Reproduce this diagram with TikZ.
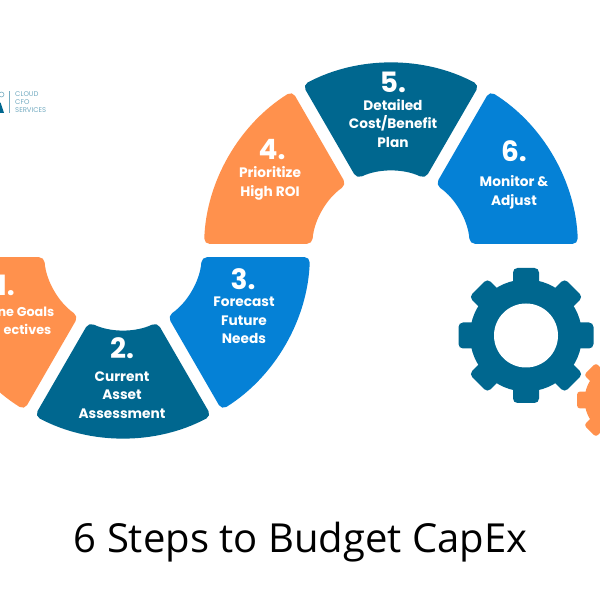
\documentclass[tikz,border=0pt]{standalone}
\usepackage{fontspec}
\setmainfont{Open Sans}
\newfontfamily\stepfont{Poppins}
\definecolor{steporange}{HTML}{FF914D}
\definecolor{stepteal}{HTML}{00678F}
\definecolor{stepblue}{HTML}{0581D6}
\usetikzlibrary{positioning,calc}
% ring sector: start angle, end angle, colour
\newcommand{\ringsector}[3]{
\fill[#3,rounded corners=5.5pt] (#1+1.85:187) arc (#1+1.85:#2-1.85:187)
  -- (#2-4.4:79) arc (#2-4.4:#1+4.4:79) -- cycle;
}
% cog: centre, scale, colour
\newcommand{\cogwheel}[3]{
\begin{scope}[shift={#1},scale=#2]
\fill[#3] (0,0) circle (56);
\foreach \ang in {0,45,...,315}
  \fill[#3,rotate=\ang,rounded corners=#2*4.5pt] (45,-13) rectangle (67.5,13);
\fill[white] (0,0) circle (32);
\end{scope}
}
\begin{document}
\begin{tikzpicture}
[x=1pt,y=1pt,
stepnum/.style={text=white,font=\stepfont\bfseries\fontsize{28}{28}\selectfont,inner sep=0pt},
steplab/.style={text=white,font=\stepfont\bfseries\fontsize{13.7}{18.7}\selectfont,align=center,inner sep=0pt},
cutlab/.style={text=white,font=\stepfont\bfseries\fontsize{12.8}{18.7}\selectfont,anchor=east,inner sep=0pt},
logotext/.style={text=stepteal!55,font=\stepfont\fontsize{6.9}{8}\selectfont,anchor=west,inner sep=0pt}]
\useasboundingbox (0,0) rectangle (600,600);
\clip (0,0) rectangle (600,600);
\fill[white] (0,0) rectangle (600,600);
%%%%% lower ring
\begin{scope}[shift={(123,349)}]
\ringsector{180}{240}{steporange}
\ringsector{240}{300}{stepteal}
\ringsector{300}{360}{stepblue}
\end{scope}
%%%%% upper ring
\begin{scope}[shift={(391,350)}]
\ringsector{120}{180}{steporange}
\ringsector{60}{120}{stepteal}
\ringsector{0}{60}{stepblue}
\end{scope}
%%%%% cogs
\cogwheel{(621,200)}{0.65}{steporange}
\cogwheel{(526,264.5)}{1}{stepteal}
%%%%% step labels
\node (n1) [stepnum,anchor=east] at (15,315) {1.};
\node (l1a) [cutlab] at (54.5,288) {ne Goals};
\node (l1b) [cutlab] at (51.5,271) {ectives};
\node (n2) [stepnum] at (122,252) {2.};
\node (l2) [steplab] at (122,205) {Current\\Asset\\Assessment};
\node (n3) [stepnum] at (243,321) {3.};
\node (l3) [steplab] at (244,279.5) {Forecast\\Future\\Needs};
\node (n4) [stepnum] at (272,450) {4.};
\node (l4) [steplab] at (270,416.5) {Prioritize\\High ROI};
\node (n5) [stepnum] at (393,518) {5.};
\node (l5) [steplab] at (393,476.5) {Detailed\\Cost/Benefit\\Plan};
\node (n6) [stepnum] at (514,448.5) {6.};
\node (l6) [steplab] at (514,407.5) {Monitor \&\\Adjust};
%%%%% logo
\fill[stepteal] (-3,487) -- (4,487) -- (0.5,497.5) -- cycle;
\draw[stepteal!55,line width=.6pt] (1.5,505.5) circle (2.5);
\draw[stepteal!55,line width=.6pt] (9,487) -- (9,509);
\node (lg1) [logotext] at (15,506) {CLOUD};
\node (lg2) [logotext] at (15,498) {CFO};
\node (lg3) [logotext] at (15,490) {SERVICES};
%%%%% title
\node (title) [font=\fontsize{40}{40}\selectfont,inner sep=0pt] at (300.5,57.5) {6 Steps to Budget CapEx};
\end{tikzpicture}
\end{document}
